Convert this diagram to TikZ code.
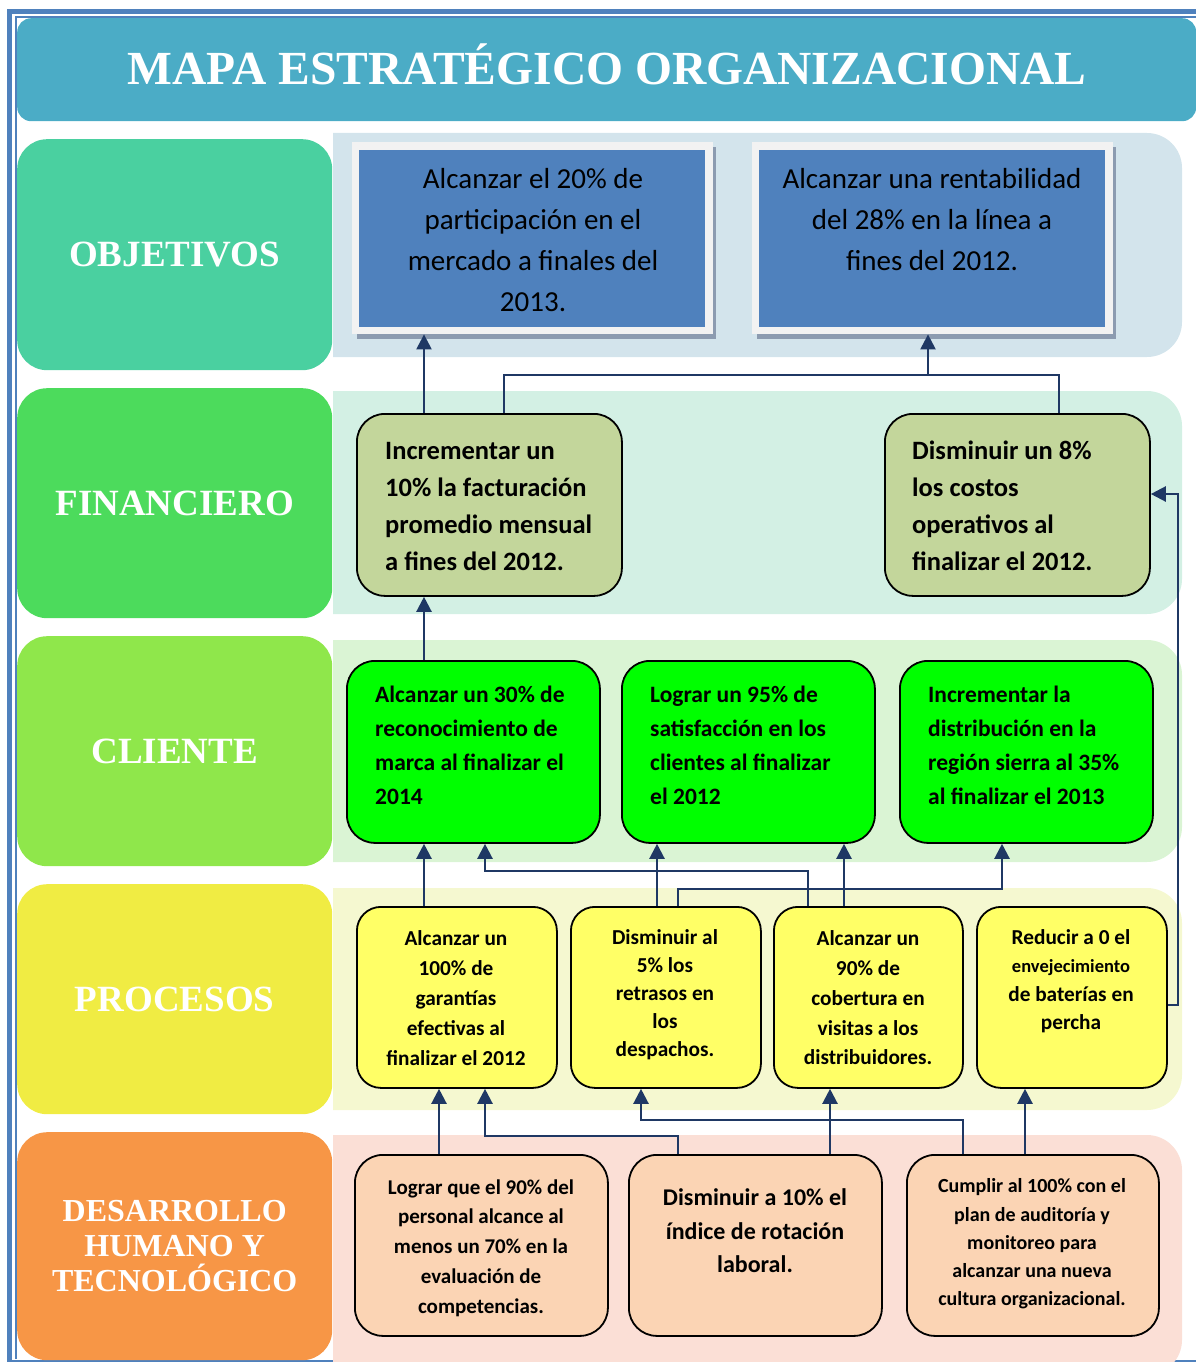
\documentclass[tikz,border=0pt]{standalone}
\usepackage{fontspec}
\setmainfont{Carlito}
\newfontfamily\serifb{Liberation Serif}
\usetikzlibrary{arrows.meta}
\definecolor{frameblue}{HTML}{4F81BD}
\definecolor{titlebg}{HTML}{4BACC6}
\definecolor{labA}{HTML}{4AD0A0}
\definecolor{labB}{HTML}{4CDB5C}
\definecolor{labC}{HTML}{8FE74B}
\definecolor{labD}{HTML}{F0EC43}
\definecolor{labE}{HTML}{F79646}
\definecolor{panA}{HTML}{D3E4EC}
\definecolor{panB}{HTML}{D3F0E4}
\definecolor{panC}{HTML}{DAF4D4}
\definecolor{panD}{HTML}{F5F8D0}
\definecolor{panE}{HTML}{FBDFD6}
\definecolor{objblue}{HTML}{4F81BD}
\definecolor{objframe}{HTML}{F2F2F2}
\definecolor{shadowc}{HTML}{8C9BB0}
\definecolor{finfill}{HTML}{C3D69B}
\definecolor{clifill}{HTML}{00FF00}
\definecolor{procfill}{HTML}{FFFF66}
\definecolor{dhfill}{HTML}{FBD4B4}
\definecolor{navy}{HTML}{1F3864}
\begin{document}
\begin{tikzpicture}[x=1pt,y=-1pt,
  lab/.style={rounded corners=30pt, anchor=north west, inner sep=0pt, text=white, align=center,
    font=\serifb\bfseries\fontsize{37}{40}\selectfont},
  box/.style={rounded corners=28pt, draw=black, line width=1.8pt, anchor=north west, inner sep=0pt},
  pbox/.style={box, rounded corners=24pt},
  txt/.style={inner sep=0pt, align=center},
  conn/.style={draw=navy, line width=2.3pt},
  arr/.style={conn, -{Triangle[length=15pt,width=15pt]}}
]
\useasboundingbox (0,0) rectangle (1196,1362);
% frame
\draw[frameblue, line width=5pt] (9.5,1370) -- (9.5,11.5) -- (1210,11.5);
\draw[frameblue, line width=1.5pt] (16,1359) -- (16,17) -- (1210,17);
\draw[frameblue, line width=1.5pt] (9.5,1361) -- (1210,1361);
% title
\node[fill=titlebg, rounded corners=14pt, anchor=north west, inner sep=0pt, minimum width=1179pt, minimum height=103pt] (title) at (17,18) {};
\node[inner sep=0pt, text=white, font=\serifb\bfseries\fontsize{47.5}{50}\selectfont] (titletext) at (607,64) {MAPA ESTRATÉGICO ORGANIZACIONAL};
% panels
\begin{scope}
\clip (333,0) rectangle (1196,1362);
\fill[panA, rounded corners=35pt] (290,133) rectangle (1182,357);
\fill[panB, rounded corners=35pt] (290,391) rectangle (1182,614);
\fill[panC, rounded corners=35pt] (290,640) rectangle (1182,862);
\fill[panD, rounded corners=35pt] (290,888) rectangle (1182,1110);
\fill[panE, rounded corners=35pt] (290,1135) rectangle (1182,1375);
\end{scope}
% labels
\node[lab, fill=labA, minimum width=315pt, minimum height=231pt] (L1) at (17,139) {OBJETIVOS};
\node[lab, fill=labB, minimum width=315pt, minimum height=230pt] (L2) at (17,388) {FINANCIERO};
\node[lab, fill=labC, minimum width=315pt, minimum height=230pt] (L3) at (17,636) {CLIENTE};
\node[lab, fill=labD, minimum width=315pt, minimum height=230pt] (L4) at (17,884) {PROCESOS};
\node[lab, fill=labE, minimum width=315pt, minimum height=228pt, font=\serifb\bfseries\fontsize{32}{35}\selectfont] (L5) at (17,1132) {DESARROLLO\\HUMANO Y\\TECNOLÓGICO};
% objetivos
\fill[shadowc] (357,147) rectangle (716,339);
\node[anchor=north west, fill=objframe, minimum width=361pt, minimum height=192pt, inner sep=0pt] (o1f) at (352,142) {};
\node[anchor=north west, fill=objblue, minimum width=346pt, minimum height=177pt, inner sep=0pt] (o1) at (359,150) {};
\node[txt, font=\fontsize{29}{41}\selectfont] (o1t) at (533,240) {Alcanzar el 20\% de\\participación en el\\mercado a finales del\\2013.};
\fill[shadowc] (757,147) rectangle (1116,339);
\node[anchor=north west, fill=objframe, minimum width=361pt, minimum height=192pt, inner sep=0pt] (o2f) at (752,142) {};
\node[anchor=north west, fill=objblue, minimum width=346pt, minimum height=177pt, inner sep=0pt] (o2) at (759,150) {};
\node[txt, font=\fontsize{29}{41}\selectfont] (o2t) at (932,220) {Alcanzar una rentabilidad\\del 28\% en la línea a\\fines del 2012.};
% financiero
\node[box, fill=finfill, minimum width=265pt, minimum height=182pt] (f1) at (356,413) {};
\node[txt, align=left, anchor=west, font=\bfseries\fontsize{26.5}{37}\selectfont] (f1t) at (385,506) {Incrementar un\\10\% la facturación\\promedio mensual\\a fines del 2012.};
\node[box, fill=finfill, minimum width=265pt, minimum height=182pt] (f2) at (884,413) {};
\node[txt, align=left, anchor=west, font=\bfseries\fontsize{26.5}{37}\selectfont] (f2t) at (912,506) {Disminuir un 8\%\\los costos\\operativos al\\finalizar el 2012.};
% cliente
\node[box, fill=clifill, minimum width=253pt, minimum height=182pt] (c1) at (346,660) {};
\node[txt, align=left, anchor=west, font=\bfseries\fontsize{23.5}{34}\selectfont] (c1t) at (375,745) {Alcanzar un 30\% de\\reconocimiento de\\marca al finalizar el\\2014};
\node[box, fill=clifill, minimum width=253pt, minimum height=182pt] (c2) at (621,660) {};
\node[txt, align=left, anchor=west, font=\bfseries\fontsize{23.5}{34}\selectfont] (c2t) at (650,745) {Lograr un 95\% de\\satisfacción en los\\clientes al finalizar\\el 2012};
\node[box, fill=clifill, minimum width=253pt, minimum height=182pt] (c3) at (899,660) {};
\node[txt, align=left, anchor=west, font=\bfseries\fontsize{23.5}{34}\selectfont] (c3t) at (928,745) {Incrementar la\\distribución en la\\región sierra al 35\%\\al finalizar el 2013};
% procesos
\node[pbox, fill=procfill, minimum width=200pt, minimum height=181pt] (p1) at (356,906) {};
\node[txt, font=\bfseries\fontsize{21.3}{30}\selectfont] (p1t) at (456,998) {Alcanzar un\\100\% de\\garantías\\efectivas al\\finalizar el 2012};
\node[pbox, fill=procfill, minimum width=190pt, minimum height=181pt] (p2) at (570,906) {};
\node[txt, font=\bfseries\fontsize{21.3}{28}\selectfont] (p2t) at (665,995) {Disminuir al\\5\% los\\retrasos en\\los\\despachos.};
\node[pbox, fill=procfill, minimum width=189pt, minimum height=181pt] (p3) at (773,906) {};
\node[txt, font=\bfseries\fontsize{21.3}{29.75}\selectfont] (p3t) at (868,998) {Alcanzar un\\90\% de\\cobertura en\\visitas a los\\distribuidores.};
\node[pbox, fill=procfill, minimum width=190pt, minimum height=181pt] (p4) at (976,906) {};
\node[txt, font=\bfseries\fontsize{21.3}{28.5}\selectfont] (p4t) at (1071,981) {Reducir a 0 el\\{\fontsize{18.5}{28.5}\selectfont envejecimiento}\\de baterías en\\percha};
% desarrollo
\node[box, fill=dhfill, minimum width=253pt, minimum height=181pt] (d1) at (354,1154) {};
\node[txt, font=\bfseries\fontsize{21}{29.75}\selectfont] (d1t) at (481,1248) {Lograr que el 90\% del\\personal alcance al\\menos un 70\% en la\\evaluación de\\competencias.};
\node[box, fill=dhfill, minimum width=253pt, minimum height=181pt] (d2) at (628,1154) {};
\node[txt, font=\bfseries\fontsize{24}{33.5}\selectfont] (d2t) at (755,1231) {Disminuir a 10\% el\\índice de rotación\\laboral.};
\node[box, fill=dhfill, minimum width=252pt, minimum height=181pt] (d3) at (906,1154) {};
\node[txt, font=\bfseries\fontsize{20}{28.25}\selectfont] (d3t) at (1032,1244) {Cumplir al 100\% con el\\plan de auditoría y\\monitoreo para\\alcanzar una nueva\\cultura organizacional.};
% connectors: financiero -> objetivos
\draw[arr] (424,0 |- f1.north) -- (424,0 |- o1f.south);
\draw[conn] (504,0 |- f1.north) -- (504,375) -- (1059,375) -- (1059,0 |- f2.north);
\coordinate (j1) at (928,375);
\draw[arr] (j1) -- (928,0 |- o2f.south);
% cliente -> financiero
\draw[arr] (424,0 |- c1.north) -- (424,0 |- f1.south);
% procesos -> cliente
\draw[arr] (424,0 |- p1.north) -- (424,0 |- c1.south);
\draw[arr] (808,0 |- p3.north) -- (808,871) -- (485,871) -- (485,0 |- c1.south);
\draw[arr] (657,0 |- p2.north) -- (657,0 |- c2.south);
\draw[arr] (678,0 |- p2.north) -- (678,889) -- (1002,889) -- (1002,0 |- c3.south);
\draw[arr] (844,0 |- p3.north) -- (844,0 |- c2.south);
\draw[arr] (p4.east |- 0,1005) -- (1178,1005) -- (1178,494) -- (f2.east |- 0,494);
% desarrollo -> procesos
\draw[arr] (439,0 |- d1.north) -- (439,0 |- p1.south);
\draw[arr] (678,0 |- d2.north) -- (678,1136) -- (485,1136) -- (485,0 |- p1.south);
\draw[arr] (963,0 |- d3.north) -- (963,1120) -- (641,1120) -- (641,0 |- p2.south);
\draw[arr] (830,0 |- d2.north) -- (830,0 |- p3.south);
\draw[arr] (1025,0 |- d3.north) -- (1025,0 |- p4.south);
\end{tikzpicture}
\end{document}
